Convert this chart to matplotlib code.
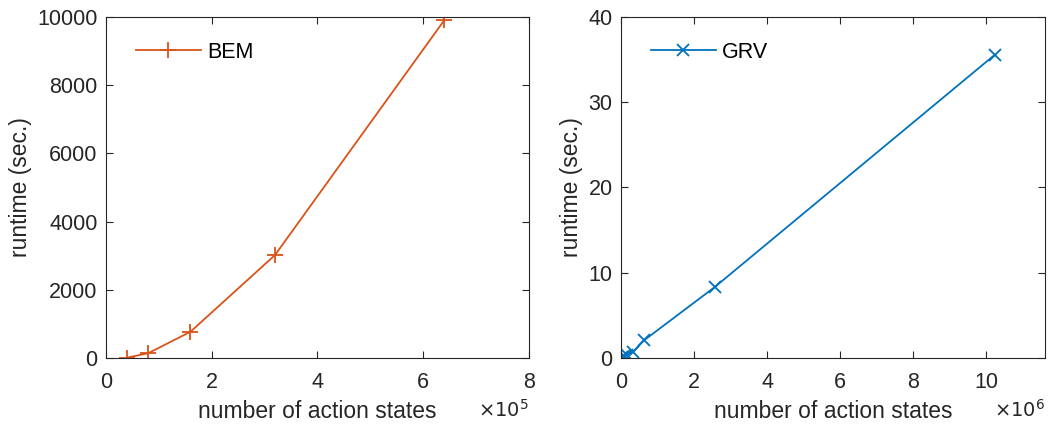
import matplotlib.pyplot as plt

# BEM runtimes
bem_states = [0.4e5, 0.8e5, 1.6e5, 3.2e5, 6.4e5]
bem_runtime = [10, 140, 770, 3020, 9900]

# GRV runtimes
grv_states = [0.04e6, 0.08e6, 0.16e6, 0.32e6, 0.64e6, 2.56e6, 10.24e6]
grv_runtime = [0.1, 0.2, 0.4, 0.7, 2.1, 8.3, 35.6]

AXC = "#262626"
plt.rcParams["font.family"] = ["Liberation Sans", "DejaVu Sans"]
plt.rcParams["font.size"] = 13


def style(ax):
    for s in ax.spines.values():
        s.set_color(AXC)
        s.set_linewidth(0.8)
    ax.tick_params(direction="in", top=True, right=True, colors=AXC,
                   labelcolor=AXC, labelsize=15.5, length=5, width=0.8)
    ax.tick_params(axis="x", pad=10)
    ax.tick_params(axis="y", pad=6)


def main():
    fig = plt.figure(figsize=(10.49, 4.28), dpi=100)
    ax1 = fig.add_axes([0.101, 0.1636, 0.403, 0.7967])
    ax2 = fig.add_axes([0.592, 0.1636, 0.404, 0.7967])

    ax1.plot(bem_states, bem_runtime, color="#D95319", marker="+",
             markersize=11, markeredgewidth=1.3, linewidth=1.3, label="BEM")
    ax1.set_xlim(0, 8e5)
    ax1.set_ylim(0, 10000)
    ax1.set_xticks([0, 2e5, 4e5, 6e5, 8e5])
    ax1.set_xticklabels(["0", "2", "4", "6", "8"])
    ax1.set_yticks([0, 2000, 4000, 6000, 8000, 10000])
    ax1.set_xlabel("number of action states", color=AXC, fontsize=16.5, labelpad=5)
    ax1.set_ylabel("runtime (sec.)", color=AXC, fontsize=16.5, labelpad=4)
    style(ax1)
    ax1.legend(loc="upper left", frameon=False, handlelength=3.0,
               handletextpad=0.3, borderaxespad=0.6,
               bbox_to_anchor=(0.02, 0.99), fontsize=15.5)
    ax1.text(1.0, -0.12, r"$\times10^5$", transform=ax1.transAxes,
             ha="right", va="top", color=AXC, fontsize=14)

    ax2.plot(grv_states, grv_runtime, color="#0072BD", marker="x",
             markersize=9, markeredgewidth=1.3, linewidth=1.3, label="GRV")
    ax2.set_xlim(0, 11.6e6)
    ax2.set_ylim(0, 40)
    ax2.set_xticks([0, 2e6, 4e6, 6e6, 8e6, 10e6])
    ax2.set_xticklabels(["0", "2", "4", "6", "8", "10"])
    ax2.set_yticks([0, 10, 20, 30, 40])
    ax2.set_xlabel("number of action states", color=AXC, fontsize=16.5, labelpad=5)
    ax2.set_ylabel("runtime (sec.)", color=AXC, fontsize=16.5, labelpad=4)
    style(ax2)
    ax2.legend(loc="upper left", frameon=False, handlelength=3.0,
               handletextpad=0.3, borderaxespad=0.6,
               bbox_to_anchor=(0.02, 0.99), fontsize=15.5)
    ax2.text(1.0, -0.12, r"$\times10^6$", transform=ax2.transAxes,
             ha="right", va="top", color=AXC, fontsize=14)

    fig.savefig("out.png", dpi=100)


if __name__ == "__main__":
    main()
